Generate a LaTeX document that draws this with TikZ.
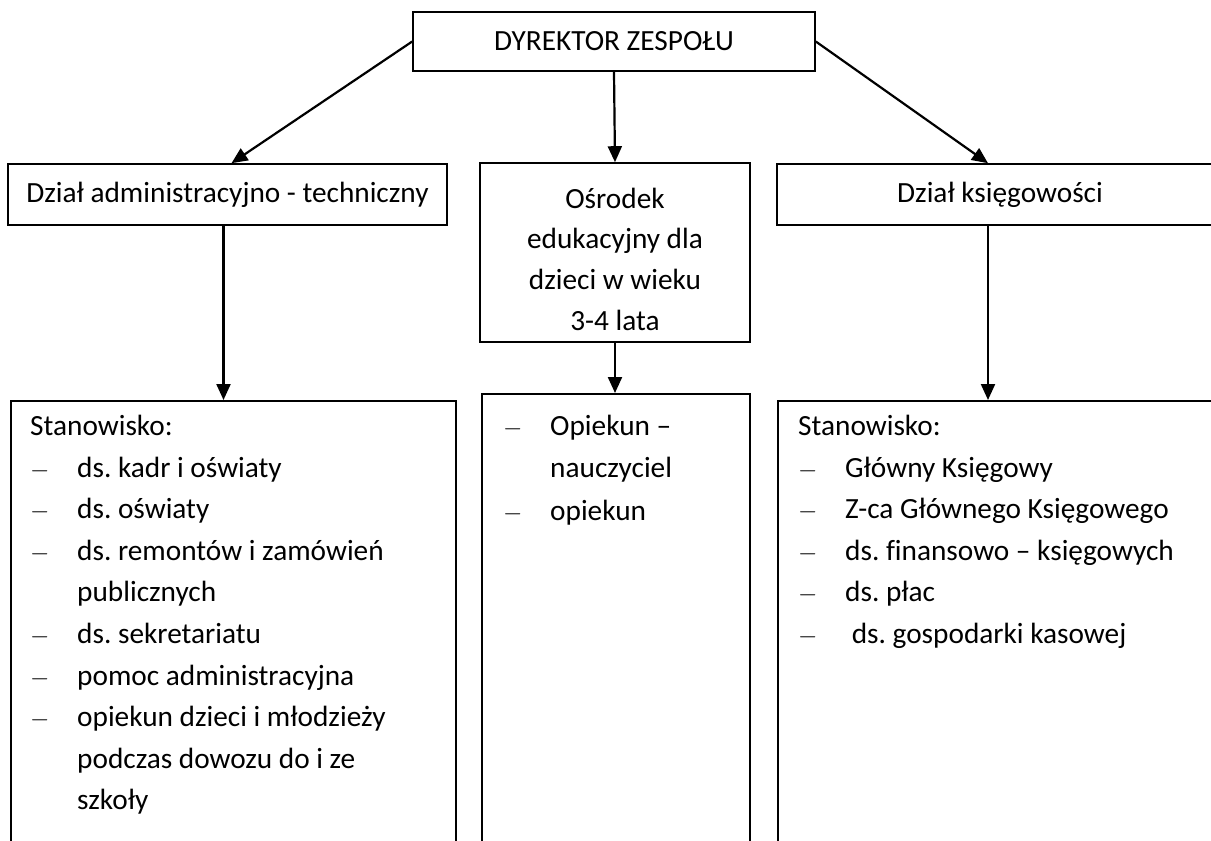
\documentclass[tikz,border=0pt]{standalone}
\usepackage{fontspec}
\setmainfont{Carlito}[Ligatures={TeX,NoCommon}]
\usetikzlibrary{positioning,arrows.meta,calc}
\frenchspacing
\newcommand{\orgfont}{\fontsize{29.3}{41.6}\selectfont}
\newcommand{\poz}[1]{\makebox[47pt][l]{$-$}#1}
\newcommand{\dalej}[1]{\hspace*{47pt}#1}
\tikzset{
  box/.style={draw, line width=1.6pt, inner sep=0pt, font=\orgfont, align=center},
  lista/.style={anchor=north west, inner sep=0pt, align=left, font=\orgfont},
  strz/.style={-{Triangle[length=16pt,width=14pt]}, line width=2.2pt},
}

\begin{document}
\begin{tikzpicture}[x=1pt,y=-1pt]
\useasboundingbox (0,0) rectangle (1211,841);
\clip (0,0) rectangle (1211,841);

% top box
\node[box, minimum width=402pt, minimum height=59pt] (dyr) at (614,41.5) {DYREKTOR ZESPOŁU};

% three departments
\node[box, minimum width=439pt, minimum height=61pt] (adm) at (227.5,194.5) {Dział administracyjno - techniczny};
\node[box, minimum width=270pt, minimum height=179pt] (osr) at (615,252.5)
{\\[-8pt]Ośrodek\\[-1pt]edukacyjny dla\\[-1pt]dzieci w wieku\\[-1pt]3-4 lata};
\node[box, minimum width=446pt, minimum height=61pt] (ksie) at (1000,194.5) {Dział księgowości};

% boxes with the posts (cut by the page edge)
\node[box, anchor=north west, minimum width=445pt, minimum height=500pt] (admdol) at (10,400) {};
\node[box, anchor=north west, minimum width=268pt, minimum height=500pt] (osrdol) at (481,393) {};
\node[box, anchor=north west, minimum width=460pt, minimum height=500pt] (ksiedol) at (777,400) {};

\node[lista] (admlista) at ($(admdol.north west)+(20,15)$)
{Stanowisko:\\
\poz{ds. kadr i oświaty}\\
\poz{ds. oświaty}\\
\poz{ds. remontów i zamówień}\\
\dalej{publicznych}\\
\poz{ds. sekretariatu}\\
\poz{pomoc administracyjna}\\
\poz{opiekun dzieci i młodzieży}\\
\dalej{podczas dowozu do i ze}\\
\dalej{szkoły}};

\node[lista] (osrlista) at ($(osrdol.north west)+(22,22)$)
{\poz{Opiekun –}\\
\dalej{nauczyciel}\\[2pt]
\poz{opiekun}};

\node[lista] (ksielista) at ($(ksiedol.north west)+(21,15)$)
{Stanowisko:\\
\poz{Główny Księgowy}\\
\poz{Z-ca Głównego Księgowego}\\
\poz{ds. finansowo – księgowych}\\
\poz{ds. płac}\\
\poz{\ ds. gospodarki kasowej}};

% arrows
\draw[strz] (dyr.west) -- ([xshift=4pt]adm.north);
\draw[strz] (dyr.south) -- (osr.north);
\draw[strz] (dyr.east) -- ([xshift=-12pt]ksie.north);
\draw[strz] ([xshift=-4pt]adm.south) -- ([xshift=-4pt]adm.south |- admdol.north);
\draw[strz] (osr.south) -- (osr.south |- osrdol.north);
\draw[strz] ([xshift=-12pt]ksie.south) -- ([xshift=-12pt]ksie.south |- ksiedol.north);
\end{tikzpicture}
\end{document}
